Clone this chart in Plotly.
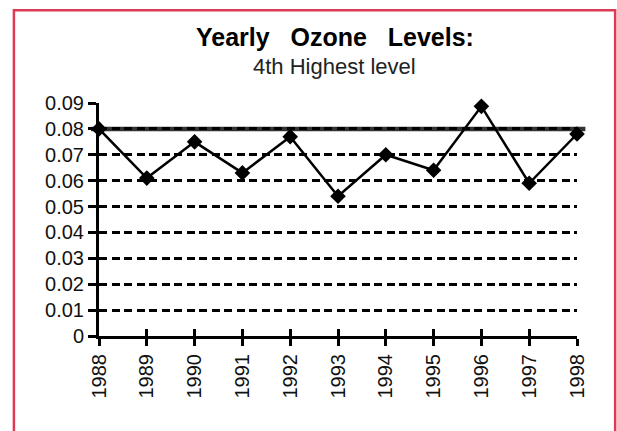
import plotly.graph_objects as go

years = [1988, 1989, 1990, 1991, 1992, 1993, 1994, 1995, 1996, 1997, 1998]
ozone = [0.080, 0.061, 0.075, 0.063, 0.077, 0.054, 0.070, 0.064, 0.0887, 0.059, 0.078]
standard = 0.08
ytick_vals = [0, 0.01, 0.02, 0.03, 0.04, 0.05, 0.06, 0.07, 0.08, 0.09]
ytick_text = ["0", "0.01", "0.02", "0.03", "0.04", "0.05", "0.06", "0.07", "0.08", "0.09"]
xtick_text = [str(y) for y in years]

W, H = 617, 431
# plot area in page pixels (body margin removed below)
PX0, PX1, PY0, PY1 = 98.7, 577.3, 103.3, 336.3
L = PX0
R = W - PX1
T = PY0
B = H - PY1
pw = PX1 - PX0
ph = PY1 - PY0

def px_x(p):
    return (p - PX0) / pw

def px_y(p):
    return (PY1 - p) / ph

FONT = "Liberation Sans, Arial, sans-serif"

fig = go.Figure()
fig.add_trace(go.Scatter(
    x=years, y=ozone, mode="lines+markers",
    line=dict(color="black", width=2.5),
    marker=dict(symbol="diamond", size=12, color="black"),
    showlegend=False, cliponaxis=False,
))
fig.add_trace(go.Scatter(x=years, y=ozone, xaxis="x2", mode="none",
                         showlegend=False, hoverinfo="skip"))

fig.update_layout(
    width=W, height=H,
    margin=dict(l=L, r=R, t=T, b=B, pad=0),
    paper_bgcolor="white", plot_bgcolor="white",
    font=dict(family=FONT, color="black"),
    xaxis=dict(
        range=[years[0], years[-1]],
        tickvals=years, ticktext=xtick_text, tickangle=-90,
        tickfont=dict(size=20, family=FONT, color="#111"),
        ticks="outside", ticklen=7, tickwidth=3, tickcolor="black",
        showline=True, linecolor="black", linewidth=3,
        showgrid=False, zeroline=False,
    ),
    xaxis2=dict(
        range=[years[0], years[-1]], overlaying="x", anchor="y",
        side="bottom",
        tickvals=years, showticklabels=False,
        ticks="inside", ticklen=7, tickwidth=3, tickcolor="black",
        showline=False, showgrid=False, zeroline=False,
    ),
    yaxis=dict(
        range=[0, 0.09],
        tickvals=ytick_vals, ticktext=ytick_text,
        tickfont=dict(size=20, family=FONT, color="#111"),
        ticks="outside", ticklen=8, tickwidth=3, tickcolor="black",
        showline=True, linecolor="black", linewidth=3,
        showgrid=True, gridcolor="black", gridwidth=3, griddash="8px,4.5px",
        zeroline=False,
    ),
    annotations=[
        dict(text="<b>Yearly   Ozone   Levels:</b>", xref="paper", yref="paper",
             x=px_x(335), y=px_y(37.5), xanchor="center", yanchor="middle",
             showarrow=False, font=dict(size=25, family=FONT, color="black")),
        dict(text="4th Highest level", xref="paper", yref="paper",
             x=px_x(334), y=px_y(67), xanchor="center", yanchor="middle",
             showarrow=False, font=dict(size=22, family=FONT, color="#222")),
    ],
    shapes=[
        dict(type="line", xref="paper", yref="y", x0=px_x(90.7), x1=px_x(585.7),
             y0=standard, y1=standard, line=dict(color="#333333", width=4.5),
             layer="below"),
        dict(type="rect", xref="paper", yref="paper",
             x0=px_x(13.5), x1=px_x(615.5), y0=px_y(460), y1=px_y(10.5),
             line=dict(color="#dc3a55", width=2.5), fillcolor="rgba(0,0,0,0)"),
    ],
)

fig.write_html(
    "out.html",
    config={"displayModeBar": False, "staticPlot": True},
    post_script="document.body.style.margin='0';document.body.style.overflow='hidden';",
)
